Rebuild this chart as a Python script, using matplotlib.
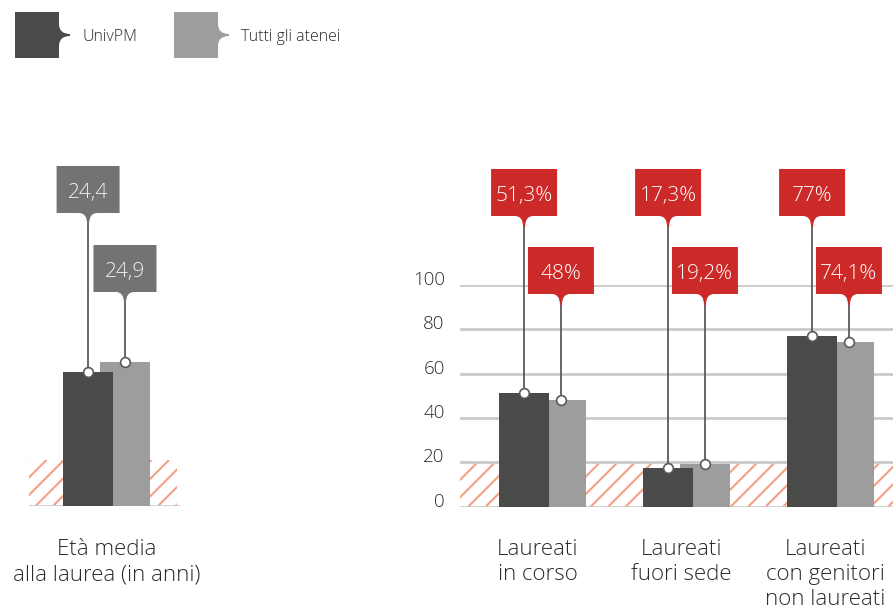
import matplotlib
matplotlib.use('Agg')
import matplotlib.pyplot as plt
import matplotlib.transforms as mtransforms
from matplotlib.path import Path
from matplotlib.patches import PathPatch, Rectangle
from matplotlib.lines import Line2D

plt.rcParams['font.family'] = ['Open Sans', 'DejaVu Sans']
plt.rcParams['font.weight'] = 'light'

# data
series_names = ['UnivPM', 'Tutti gli atenei']
categories = ['Laureati\nin corso', 'Laureati\nfuori sede', 'Laureati\ncon genitori\nnon laureati']
univpm = [51.3, 17.3, 77.0]
tutti = [48.0, 19.2, 74.1]
eta_label = 'Età media\nalla laurea (in anni)'
eta_univpm = 24.4
eta_tutti = 24.9
yticks = [0, 20, 40, 60, 80, 100]

# style
W, H = 893, 609
DARK = '#4a4a48'
LIGHT = '#9d9d9d'
RED = '#cc2929'
BOXGREY = '#737373'
GRID = '#cbcbcb'
HATCH = '#f2a085'
STEM = '#5a5a5a'
TXT = '#2b2b2b'
BAR_W = 0.347
OFF = 0.128
PX = mtransforms.IdentityTransform()


def num(v, pct=False):
    s = f'{v:g}'.replace('.', ',')
    return s + '%' if pct else s


def hatch_band(ax, x0, x1, y0, y1, step=17.5):
    # diagonal stripes at 45 degrees on screen, clipped to the band
    rect = Rectangle((x0, y0), x1 - x0, y1 - y0, facecolor='white', edgecolor='none', zorder=0.2)
    ax.add_patch(rect)
    xa, ya = ax.transData.transform((x0, y0))
    xb, yb = ax.transData.transform((x1, y1))
    h = yb - ya
    x = xa - h
    while x < xb:
        ln = Line2D([x, x + h], [ya, yb], transform=PX, color=HATCH, lw=1.5,
                    zorder=0.3, solid_capstyle='butt')
        ax.add_line(ln)
        ln.set_clip_path(rect)
        x += step


def callout(ax, x, val, top_px, width, color, text, tcolor):
    fig = ax.figure
    cx, cy = ax.transData.transform((x, val))
    T = H - top_px
    B = T - 47
    L, R = cx - width / 2, cx + width / 2
    t = 11
    verts = [(L, T), (R, T), (R, B), (cx + 9, B), (cx + 1, B), (cx + 1, B - t),
             (cx - 1, B - t), (cx - 1, B), (cx - 9, B), (L, B), (L, T)]
    codes = [Path.MOVETO, Path.LINETO, Path.LINETO, Path.LINETO, Path.CURVE3, Path.CURVE3,
             Path.LINETO, Path.CURVE3, Path.CURVE3, Path.LINETO, Path.CLOSEPOLY]
    fig.add_artist(PathPatch(Path(verts, codes), facecolor=color, edgecolor='none',
                             transform=PX, zorder=5))
    fig.text(cx, (T + B) / 2 - 1, text, transform=PX, ha='center', va='center_baseline',
             color=tcolor, fontsize=15, zorder=6)
    tip = ax.transData.inverted().transform((cx, B - t))[1]
    ax.plot([x, x], [val, tip], color=STEM, lw=1.3, clip_on=False, zorder=4)
    ax.plot(x, val, 'o', ms=7, mfc='white', mec=STEM, mew=1.2, clip_on=False, zorder=6)


def legend_key(fig, left, color, label):
    L, R = left, left + 44
    T, B = H - 12, H - 58
    cy = (T + B) / 2
    verts = [(L, T), (R, T), (R, cy + 11), (R, cy + 1), (R + 11, cy + 1),
             (R + 11, cy - 1), (R, cy - 1), (R, cy - 11), (R, B), (L, B), (L, T)]
    codes = [Path.MOVETO, Path.LINETO, Path.LINETO, Path.CURVE3, Path.CURVE3,
             Path.LINETO, Path.CURVE3, Path.CURVE3, Path.LINETO, Path.LINETO, Path.CLOSEPOLY]
    fig.add_artist(PathPatch(Path(verts, codes), facecolor=color, edgecolor='none', transform=PX))
    fig.text(R + 23, cy, label, transform=PX, ha='left', va='center_baseline',
             color=TXT, fontsize=11.5)


fig = plt.figure(figsize=(W / 100, H / 100), dpi=100)

# -------------------------------
# left panel: average age
# -------------------------------
axl = fig.add_axes([29 / W, (H - 506) / H, 151 / W, 146 / H])
axl.set_xlim(-0.538, 0.510)
axl.set_ylim(17.7, 25.0)
axl.axis('off')
hatch_band(axl, -0.538, 0.49, 17.7, 20)
axl.axhline(17.7, color=GRID, lw=2, zorder=0.5)
axl.bar(-OFF, eta_univpm, BAR_W, bottom=0, color=DARK, zorder=3)
axl.bar(OFF, eta_tutti, BAR_W, bottom=0, color=LIGHT, zorder=2)
callout(axl, -OFF, eta_univpm, 166, 63, BOXGREY, num(eta_univpm), '#f0f0f0')
callout(axl, OFF, eta_tutti, 245, 63, BOXGREY, num(eta_tutti), '#f0f0f0')
blend = mtransforms.blended_transform_factory(axl.transData, axl.transAxes)
axl.text(0, -0.225, eta_label, transform=blend, ha='center', va='top',
         fontsize=16, color=TXT, linespacing=1.3)

# -------------------------------
# right panel: percentages
# -------------------------------
axr = fig.add_axes([460 / W, (H - 506.7) / H, 433 / W, 221.7 / H])
axr.set_xlim(-0.573, 2.434)
axr.set_ylim(0, 100)
for s in axr.spines.values():
    s.set_visible(False)
axr.set_xticks([])
axr.set_yticks(yticks)
axr.set_axisbelow(True)
axr.yaxis.grid(True, color=GRID, lw=2)
axr.tick_params(axis='y', length=0, pad=11, labelsize=13.5, labelcolor=TXT)
for lab in axr.get_yticklabels():
    lab.set_verticalalignment('baseline')
hatch_band(axr, -0.573, 2.434, 0, 20)

xs = list(range(len(categories)))
axr.bar([x - OFF for x in xs], univpm, BAR_W, color=DARK, zorder=3)
axr.bar([x + OFF for x in xs], tutti, BAR_W, color=LIGHT, zorder=2)
for x, a, b in zip(xs, univpm, tutti):
    callout(axr, x - OFF, a, 169, 66, RED, num(a, True), 'white')
    callout(axr, x + OFF, b, 247, 66, RED, num(b, True), 'white')

blend = mtransforms.blended_transform_factory(axr.transData, axr.transAxes)
for x, c in zip(xs, categories):
    axr.text(x - 0.035, -0.145, c, transform=blend, ha='center', va='top',
             fontsize=16, color=TXT, linespacing=1.24)

# legend
legend_key(fig, 15, DARK, series_names[0])
legend_key(fig, 174, LIGHT, series_names[1])

fig.savefig('out.png', dpi=100)
